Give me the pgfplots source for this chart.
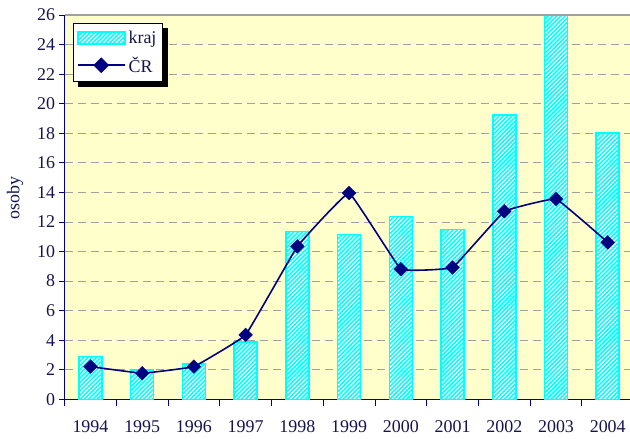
\documentclass[border=0pt]{standalone}
\usepackage{fontspec}
\setmainfont{Liberation Serif}
\usepackage{pgfplots}
\pgfplotsset{compat=1.18}
\usetikzlibrary{patterns.meta}
\definecolor{bgyellow}{HTML}{FFFFCC}
\definecolor{barcyan}{HTML}{00FFFF}
\definecolor{linenavy}{HTML}{000080}
\definecolor{txtnavy}{HTML}{141450}
\definecolor{gridgray}{HTML}{A0A0A0}
\tikzset{
  hatchbar/.style={preaction={fill=barcyan},
    pattern={Lines[angle=45,distance=3bp,line width=1.2bp]}, pattern color=white,
    draw=barcyan, line width=1.6bp},
}
\pgfplotsset{
  barlegend/.style={legend image code/.code={\draw[hatchbar] (0bp,-6bp) rectangle (47bp,6bp);}},
  linelegend/.style={legend image code/.code={\draw[draw=linenavy, line width=1.6bp] (0bp,0bp) -- (47bp,0bp);
     \fill[linenavy] (23.5bp,-6.8bp) -- (30.3bp,0bp) -- (23.5bp,6.8bp) -- (16.7bp,0bp) -- cycle;}},
}
\begin{document}
\begin{tikzpicture}
\useasboundingbox (-64.6bp,-39.6bp) rectangle (565.4bp,399.4bp);
\begin{axis}[
  scale only axis,
  width=569bp, height=384.4bp,
  xmin=-0.5, xmax=10.5,
  ymin=0, ymax=26,
  axis background/.style={fill=bgyellow},
  axis x line*=bottom,
  axis y line*=left,
  axis line style={draw=linenavy, line width=0.9bp},
  xtick={0,...,10},
  xticklabels={1994,1995,1996,1997,1998,1999,2000,2001,2002,2003,2004},
  major x tick style={draw=none},
  minor xtick={-0.5,0.5,...,10.5},
  minor x tick style={draw=linenavy, line width=0.9bp},
  minor tick length=6.5bp,
  ytick={0,2,...,26},
  major tick length=6bp,
  y tick style={draw=linenavy, line width=0.9bp},
  tick align=outside,
  /pgf/number format/assume math mode=true,
  tick label style={font=\fontsize{18}{21}\selectfont, text=txtnavy},
  xticklabel style={yshift=-11.5bp},
  ymajorgrids,
  major grid style={draw=gridgray, line width=0.9bp, dash pattern=on 8bp off 5bp},
  ylabel={osoby},
  ylabel style={font=\fontsize{18}{21}\selectfont, text=txtnavy, at={(axis description cs:-0.0872,0.523)}, anchor=center},
  legend style={name=leg, at={(rel axis cs:0,1)}, anchor=north west, xshift=8bp, yshift=-8bp,
    draw=black, fill=white, line width=0.8bp,
    font=\fontsize{18}{21}\selectfont, text=txtnavy,
    inner xsep=4bp, inner ysep=5.5bp, row sep=8bp, column sep=1bp},
  legend cell align=left,
  clip=true,
]
\addplot[ybar, bar width=23bp, bar shift=0pt, hatchbar, barlegend]
  coordinates {(0,2.89) (1,1.99) (2,2.40) (3,3.87) (4,11.36) (5,11.14) (6,12.38) (7,11.48) (8,19.22) (9,26) (10,18.03)};
\addlegendentry{kraj}
\addplot[draw=linenavy, line width=1.6bp, smooth, tension=0.12,
  mark=square*, mark size=4.8bp, mark options={rotate=45, fill=linenavy, draw=linenavy, line width=0.5bp},
  linelegend]
  coordinates {(0,2.22) (1,1.77) (2,2.22) (3,4.36) (4,10.35) (5,13.96) (6,8.81) (7,8.92) (8,12.72) (9,13.56) (10,10.62)};
\addlegendentry{ČR}
\draw[gridgray, line width=1.5bp] (rel axis cs:0,1) -- (rel axis cs:1,1);
\end{axis}
\fill[black] ([shift={(0.4bp,-5bp)}]leg.north east) rectangle ([shift={(5bp,-5bp)}]leg.south east);
\fill[black] ([shift={(5bp,-0.4bp)}]leg.south west) rectangle ([shift={(5bp,-5bp)}]leg.south east);
\end{tikzpicture}
\end{document}
